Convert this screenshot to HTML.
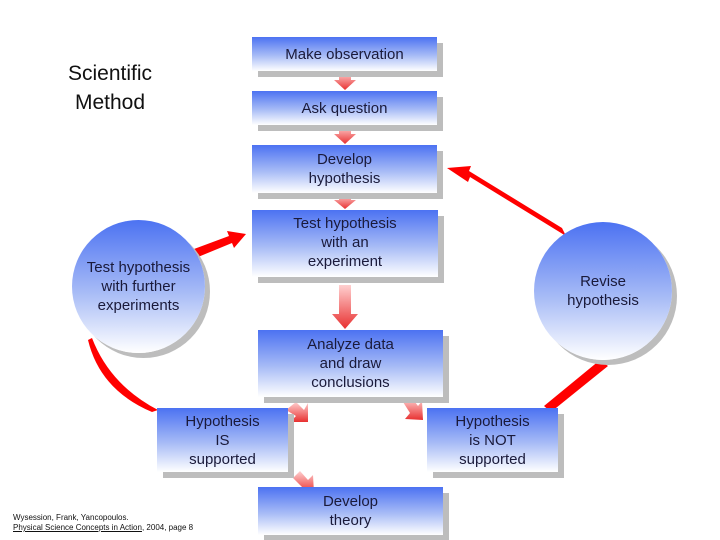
<!DOCTYPE html>
<html><head><style>
body{margin:0;width:720px;height:540px;background:#fff;position:relative;overflow:hidden;font-family:"Liberation Sans",sans-serif;}
.b{position:absolute;background:linear-gradient(#4c72f2,#a8bcf6 55%,#fff);box-shadow:6px 6px 0 #bdbdbd;color:#1a1a3a;font-size:15px;text-align:center;display:flex;align-items:center;justify-content:center;line-height:19px;}
.c{position:absolute;border-radius:50%;background:linear-gradient(#4c72f2,#a8bcf6 55%,#fff);box-shadow:5px 5px 0 #bdbdbd;color:#1a1a3a;font-size:15px;text-align:center;display:flex;align-items:center;justify-content:center;line-height:19px;}
.t{position:absolute;font-size:21px;text-align:center;line-height:29px;color:#111;}
.ref{position:absolute;left:13px;top:513px;font-size:8px;line-height:10px;color:#111;}
svg{position:absolute;left:0;top:0;}
</style></head><body>
<div class="t" style="left:55px;top:59px;width:110px">Scientific<br>Method</div>
<svg width="720" height="540">
<defs>
<linearGradient id="pa" x1="0" y1="0" x2="0" y2="1"><stop offset="0" stop-color="#ffd0d0"/><stop offset="1" stop-color="#e83030"/></linearGradient>
</defs>
<g fill="url(#pa)">
<polygon points="339,72 351,72 351,80 356,80 345,90 334,80 339,80"/>
<polygon points="339,126 351,126 351,134 356,134 345,144 334,134 339,134"/>
<polygon points="339,194 351,194 351,200 356,200 345,209 334,200 339,200"/>
<polygon points="339,285 351,285 351,314 358,314 345,329 332,314 339,314"/>
<polygon points="286,410 296,402 304,410 308,403 308,422 290,422 296,416" transform="rotate(0)"/>
<polygon points="403,402 412,398 418,406 422,401 423,420 405,419 410,413"/>
<polygon points="293,478 300,471 308,480 313,475 314,493 296,493 302,487"/>
</g>
<g fill="#f00" stroke="none">
<polygon points="194,249 229,236 227,231 246,234 234,248 232,243 198,257"/>
<polygon points="566,236 470,177 468,182 447,168 471,166 469,171 562,228"/>
<polygon points="600,360 608,366 551,412 544,406"/>
<path d="M92,338 Q110,385 158,410 L152,412 Q100,390 88,340 Z"/>
</g>
</svg>
<div class="b" style="left:252px;top:37px;width:185px;height:34px">Make observation</div>
<div class="b" style="left:252px;top:91px;width:185px;height:34px">Ask question</div>
<div class="b" style="left:252px;top:145px;width:185px;height:48px">Develop<br>hypothesis</div>
<div class="b" style="left:252px;top:210px;width:186px;height:67px;align-items:flex-start;padding-top:4px;box-sizing:border-box">Test hypothesis<br>with an<br>experiment</div>
<div class="b" style="left:258px;top:330px;width:185px;height:67px">Analyze data<br>and draw<br>conclusions</div>
<div class="b" style="left:157px;top:408px;width:131px;height:64px">Hypothesis<br>IS<br>supported</div>
<div class="b" style="left:427px;top:408px;width:131px;height:64px">Hypothesis<br>is NOT<br>supported</div>
<div class="b" style="left:258px;top:487px;width:185px;height:48px">Develop<br>theory</div>
<div class="c" style="left:72px;top:220px;width:133px;height:133px">Test hypothesis<br>with further<br>experiments</div>
<div class="c" style="left:534px;top:222px;width:138px;height:138px">Revise<br>hypothesis</div>
<div class="ref">Wysession, Frank, Yancopoulos.<br><u>Physical Science Concepts in Action</u>, 2004, page 8</div>
</body></html>
